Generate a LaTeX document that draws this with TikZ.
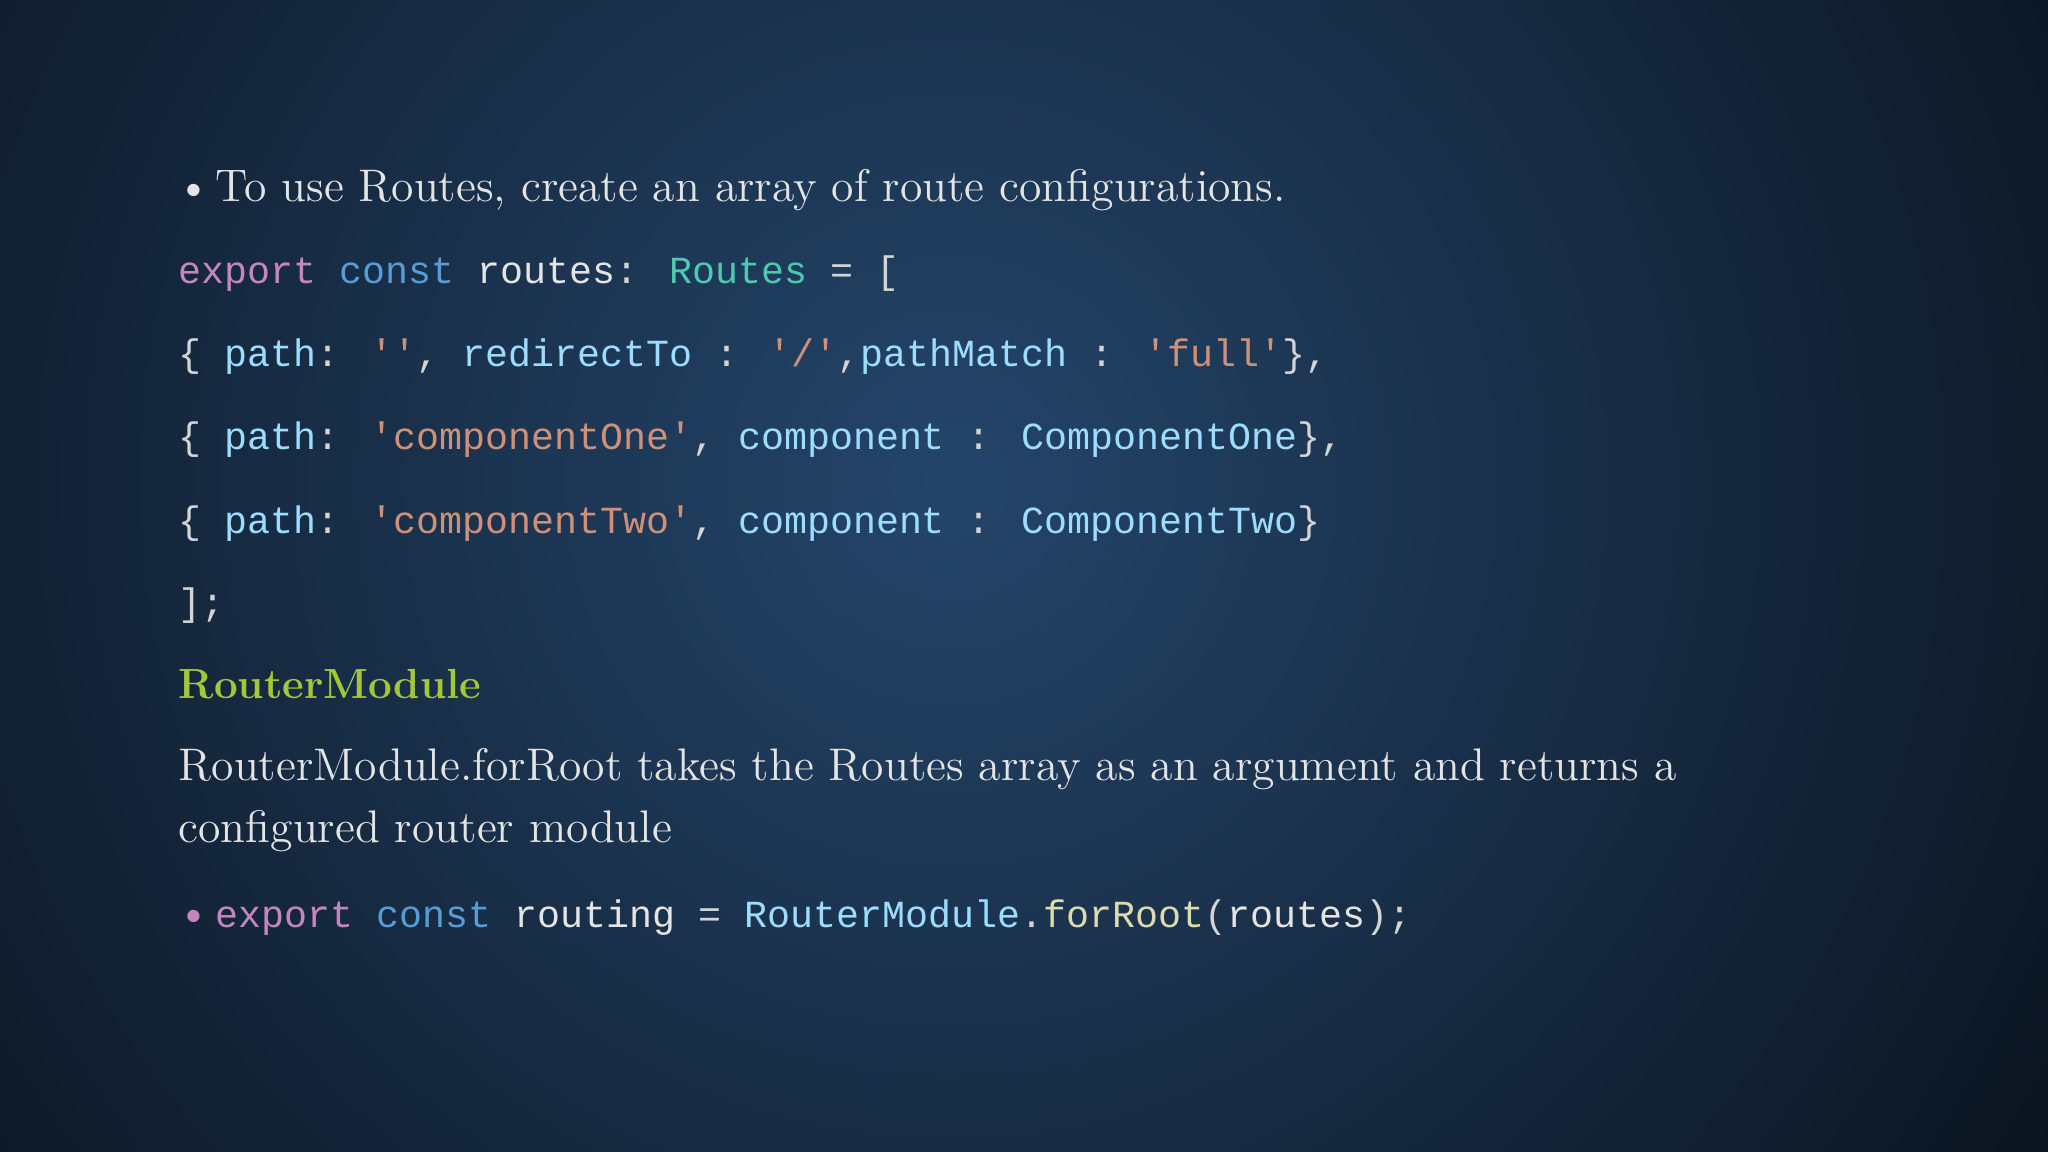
\documentclass[tikz,border=0pt]{standalone}
\usepackage{fontspec}
\newfontfamily\codefont{Liberation Mono}
\definecolor{bgout}{HTML}{0B1420}
\definecolor{bgin}{HTML}{24456A}
\definecolor{kpink}{HTML}{C586C0}
\definecolor{kblue}{HTML}{569CD6}
\definecolor{kvar}{HTML}{9CDCFE}
\definecolor{ktype}{HTML}{4EC9B0}
\definecolor{kstr}{HTML}{CE9178}
\definecolor{kfn}{HTML}{DCDCAA}
\definecolor{kpun}{HTML}{D4D4D4}
\definecolor{ktxt}{HTML}{E4E4E4}
\definecolor{kgreen}{HTML}{A4C639}
\tikzset{
 txt/.style={anchor=base west,inner sep=0pt,text=ktxt,font=\fontsize{13}{15}\selectfont},
 code/.style={anchor=base west,inner sep=0pt,text=kpun,font=\codefont\fontsize{10.9}{13}\selectfont},
}
\begin{document}
\begin{tikzpicture}
\useasboundingbox (0,0) rectangle (20.48,-11.52);
\begin{scope}
\clip (0,0) rectangle (20.48,-11.52);
\fill[bgout] (0,0) rectangle (20.48,-11.52);
\shade[inner color=bgin,outer color=bgout] (9.5,-4.8) circle (13);
\end{scope}
\node[txt] (b1) at (1.76,-2.02) {\textbullet};
\node[txt] (t1) at (2.15,-2.02) {To use Routes, create an array of route configurations.};
\node[code] (c1) at (1.78,-2.84) {\textcolor{kpink}{export} \textcolor{kblue}{const} \textcolor{ktxt}{routes}: \textcolor{ktype}{Routes} = [};
\node[code] (c2) at (1.78,-3.67) {\{ \textcolor{kvar}{path}: \textcolor{kstr}{''}, \textcolor{kvar}{redirectTo} : \textcolor{kstr}{'/'},\textcolor{kvar}{pathMatch} : \textcolor{kstr}{'full'}\},};
\node[code] (c3) at (1.78,-4.50) {\{ \textcolor{kvar}{path}: \textcolor{kstr}{'componentOne'}, \textcolor{kvar}{component} : \textcolor{kvar}{ComponentOne}\},};
\node[code] (c4) at (1.78,-5.33) {\{ \textcolor{kvar}{path}: \textcolor{kstr}{'componentTwo'}, \textcolor{kvar}{component} : \textcolor{kvar}{ComponentTwo}\}};
\node[code] (c5) at (1.78,-6.16) {];};
\node[txt,text=kgreen,font=\bfseries\fontsize{12}{15}\selectfont] (h) at (1.78,-6.98) {RouterModule};
\node[txt] (p1) at (1.78,-7.81) {RouterModule.forRoot takes the Routes array as an argument and returns a};
\node[txt] (p2) at (1.78,-8.43) {configured router module};
\node[txt,text=kpink] (b2) at (1.76,-9.27) {\textbullet};
\node[code] (c6) at (2.15,-9.27) {\textcolor{kpink}{export} \textcolor{kblue}{const} \textcolor{ktxt}{routing} = \textcolor{kvar}{RouterModule}.\textcolor{kfn}{forRoot}(\textcolor{ktxt}{routes});};
\end{tikzpicture}
\end{document}
